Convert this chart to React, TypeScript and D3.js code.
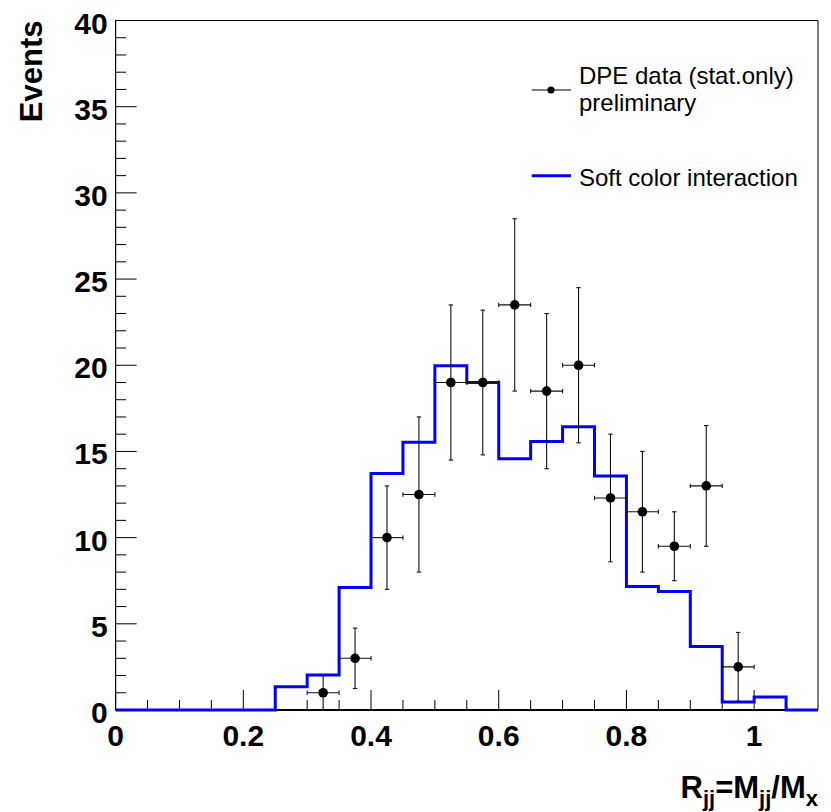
import React from "react";
import * as d3 from "d3";

// Histogram (Soft color interaction) bin lower edges and contents
const binLowEdges = [0, 0.05, 0.1, 0.15, 0.2, 0.25, 0.3, 0.35, 0.4, 0.45, 0.5, 0.55, 0.6, 0.65, 0.7, 0.75, 0.8, 0.85, 0.9, 0.95, 1.0, 1.05];
const binWidth = 0.05;
const mcValues = [0, 0, 0, 0, 0, 1.35, 2.03, 7.11, 13.72, 15.54, 19.97, 19.0, 14.57, 15.58, 16.43, 13.58, 7.17, 6.87, 3.68, 0.46, 0.75, 0];

// DPE data points
const dataCenters = [0.325, 0.375, 0.425, 0.475, 0.525, 0.575, 0.625, 0.675, 0.725, 0.775, 0.825, 0.875, 0.925, 0.975];
const dataValues = [1.0, 3.0, 10.0, 12.5, 19.0, 19.0, 23.5, 18.5, 20.0, 12.3, 11.5, 9.5, 13.0, 2.5];
const dataErrors = [1.0, 1.75, 3.0, 4.5, 4.5, 4.2, 5.0, 4.5, 4.5, 3.7, 3.5, 2.0, 3.5, 2.0];

// Axis ticks
const xMajorTicks = [0, 0.2, 0.4, 0.6, 0.8, 1.0];
const xTickLabels = ["0", "0.2", "0.4", "0.6", "0.8", "1"];
const xMinorTicks = [0.05, 0.1, 0.15, 0.25, 0.3, 0.35, 0.45, 0.5, 0.55, 0.65, 0.7, 0.75, 0.85, 0.9, 0.95, 1.05];
const yMajorTicks = [0, 5, 10, 15, 20, 25, 30, 35, 40];
const yTickLabels = ["0", "5", "10", "15", "20", "25", "30", "35", "40"];
const yMinorTicks = [1, 2, 3, 4, 6, 7, 8, 9, 11, 12, 13, 14, 16, 17, 18, 19, 21, 22, 23, 24, 26, 27, 28, 29, 31, 32, 33, 34, 36, 37, 38, 39];

const legendData = "DPE data (stat.only)";
const legendData2 = "preliminary";
const legendMC = "Soft color interaction";

const FONT = "'Liberation Sans', Arial, Helvetica, sans-serif";

export default function App() {
  const W = 831;
  const H = 812;
  const x = d3.scaleLinear().domain([0, 1.1]).range([115.6, 818]);
  const y = d3.scaleLinear().domain([0, 40]).range([710, 20.5]);

  // step path
  const pts: [number, number][] = [];
  binLowEdges.forEach((lo, i) => {
    pts.push([lo, mcValues[i]]);
    pts.push([lo + binWidth, mcValues[i]]);
  });
  const stepLine = d3
    .line<[number, number]>()
    .x((d) => x(d[0]))
    .y((d) => y(d[1]));

  const x0 = x(0);
  const x1 = x(1.1);
  const yTop = y(40);
  const yBot = y(0);

  return (
    <svg width={W} height={H} style={{ position: "absolute", left: 0, top: 0, background: "#fff" }} fontFamily={FONT}>
      <rect x={0} y={0} width={W} height={H} fill="#fff" />
      {/* frame */}
      <line x1={x0} y1={yTop} x2={x1} y2={yTop} stroke="#000" strokeWidth={1} />
      <line x1={x1} y1={yTop} x2={x1} y2={yBot} stroke="#000" strokeWidth={1} />
      <line x1={x0} y1={yTop} x2={x0} y2={yBot} stroke="#000" strokeWidth={1.2} />

      {/* y ticks */}
      {yMajorTicks.map((t) => (
        <line key={"ym" + t} x1={x0} x2={x0 + 21} y1={y(t)} y2={y(t)} stroke="#000" strokeWidth={1} />
      ))}
      {yMinorTicks.map((t) => (
        <line key={"yn" + t} x1={x0} x2={x0 + 10.5} y1={y(t)} y2={y(t)} stroke="#000" strokeWidth={1} />
      ))}
      {yMajorTicks.map((t, i) => (
        <text key={"yl" + t} x={x0 - 8} y={y(t) + 13} textAnchor="end" fontSize={30} fontWeight="bold" fill="#000">
          {yTickLabels[i]}
        </text>
      ))}

      {/* x ticks */}
      {xMajorTicks.map((t) => (
        <line key={"xm" + t} x1={x(t)} x2={x(t)} y1={yBot} y2={yBot - 20} stroke="#000" strokeWidth={1} />
      ))}
      {xMinorTicks.map((t) => (
        <line key={"xn" + t} x1={x(t)} x2={x(t)} y1={yBot} y2={yBot - 10} stroke="#000" strokeWidth={1} />
      ))}
      {xMajorTicks.map((t, i) => (
        <text key={"xl" + t} x={x(t)} y={745.5} textAnchor="middle" fontSize={30} fontWeight="bold" fill="#000">
          {xTickLabels[i]}
        </text>
      ))}

      <line x1={x0} y1={yBot} x2={x1} y2={yBot} stroke="#000" strokeWidth={2} />

      {/* histogram */}
      <path d={stepLine(pts) || ""} fill="none" stroke="#0000ff" strokeWidth={3} strokeLinejoin="miter" />

      {/* data points */}
      {dataCenters.map((c, i) => {
        const cx = x(c);
        const cy = y(dataValues[i]);
        const yHi = y(dataValues[i] + dataErrors[i]);
        const yLo = y(Math.max(0, dataValues[i] - dataErrors[i]));
        const xl = x(c - binWidth / 2);
        const xr = x(c + binWidth / 2);
        return (
          <g key={"d" + i} stroke="#111" strokeWidth={1.1}>
            <line x1={cx} x2={cx} y1={yHi} y2={yLo} />
            <line x1={xl} x2={xr} y1={cy} y2={cy} />
            <line x1={cx - 2.2} x2={cx + 2.2} y1={yHi} y2={yHi} />
            <line x1={cx - 2.2} x2={cx + 2.2} y1={yLo} y2={yLo} />
            <line x1={xl} x2={xl} y1={cy - 2.2} y2={cy + 2.2} />
            <line x1={xr} x2={xr} y1={cy - 2.2} y2={cy + 2.2} />
            <circle cx={cx} cy={cy} r={4.8} fill="#000" stroke="none" />
          </g>
        );
      })}

      {/* legend */}
      <line x1={531.7} x2={571} y1={90} y2={90} stroke="#000" strokeWidth={1.1} />
      <circle cx={551} cy={90} r={3.6} fill="#000" />
      <text x={579} y={83.5} fontSize={24} fill="#000">{legendData}</text>
      <text x={579} y={110.5} fontSize={24} fill="#000">{legendData2}</text>
      <line x1={531.7} x2={571} y1={175.7} y2={175.7} stroke="#0000ff" strokeWidth={3} />
      <text x={579} y={186} fontSize={24} fill="#000">{legendMC}</text>

      {/* axis titles */}
      <text
        transform={`translate(42,${yTop}) rotate(-90)`}
        textAnchor="end"
        fontSize={31}
        fontWeight="bold"
        fill="#000"
      >
        Events
      </text>
      <text x={818} y={798} textAnchor="end" fontSize={31} fontWeight="bold" fill="#000">
        R
        <tspan fontSize={22} dy={8}>jj</tspan>
        <tspan dy={-8}>=M</tspan>
        <tspan fontSize={22} dy={8}>jj</tspan>
        <tspan dy={-8}>/M</tspan>
        <tspan fontSize={22} dy={8}>x</tspan>
      </text>
    </svg>
  );
}
